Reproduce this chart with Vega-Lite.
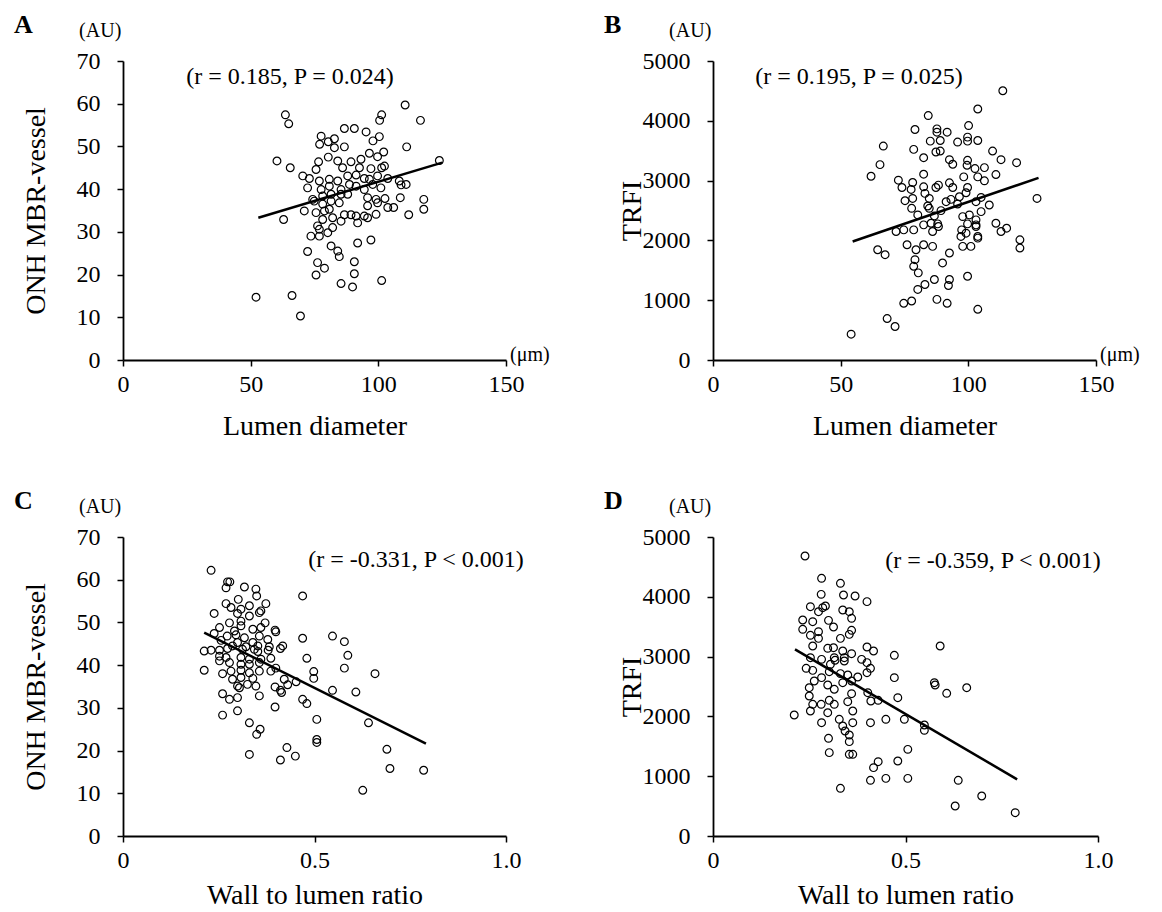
{
"$schema":"https://vega.github.io/schema/vega-lite/v6.json",
"background":"white",
"padding":{"left":13,"top":11,"right":10,"bottom":10},
"bounds":"flush",
"columns":2,
"spacing":{"row":177,"column":207},
"config":{"font":"Liberation Serif","view":{"stroke":null},
 "axis":{"grid":false,"domainColor":"black","domainWidth":1.8,"tickColor":"black","tickWidth":1.5,"tickSize":6,"labelFont":"Liberation Serif","labelFontSize":24,"labelColor":"black","titleFont":"Liberation Serif","titleFontSize":28,"titleFontWeight":"normal","titleColor":"black","labelOverlap":false,"labelFlush":false},
 "axisY":{"labelPadding":17},
 "axisX":{"labelPadding":6},
 "text":{"font":"Liberation Serif","color":"black"}},
"datasets":{
"a":[{"x":63.6,"y":57.4},{"x":64.9,"y":55.3},{"x":101.3,"y":57.4},{"x":100.5,"y":56.1},{"x":60.3,"y":46.6},{"x":65.5,"y":45.0},{"x":77.6,"y":52.4},{"x":82.8,"y":51.8},{"x":86.7,"y":54.2},{"x":90.6,"y":54.2},{"x":95.2,"y":53.4},{"x":100.4,"y":52.3},{"x":97.9,"y":51.3},{"x":77.0,"y":50.5},{"x":80.4,"y":51.1},{"x":82.8,"y":49.7},{"x":86.7,"y":49.9},{"x":96.5,"y":48.4},{"x":102.1,"y":48.7},{"x":93.2,"y":47.0},{"x":99.7,"y":47.6},{"x":76.6,"y":46.4},{"x":80.4,"y":47.5},{"x":84.1,"y":46.6},{"x":89.3,"y":46.4},{"x":75.6,"y":44.6},{"x":86.0,"y":45.0},{"x":92.6,"y":45.0},{"x":97.1,"y":44.8},{"x":102.4,"y":45.4},{"x":70.4,"y":43.1},{"x":73.0,"y":42.5},{"x":76.9,"y":41.9},{"x":80.8,"y":42.3},{"x":84.1,"y":41.9},{"x":88.0,"y":43.1},{"x":91.3,"y":43.3},{"x":94.5,"y":42.5},{"x":96.5,"y":42.3},{"x":99.7,"y":43.1},{"x":103.7,"y":42.5},{"x":72.3,"y":40.3},{"x":77.6,"y":39.9},{"x":80.8,"y":40.7},{"x":85.4,"y":39.9},{"x":88.7,"y":41.1},{"x":91.3,"y":40.7},{"x":94.5,"y":39.9},{"x":97.8,"y":41.1},{"x":101.0,"y":40.3},{"x":74.3,"y":37.6},{"x":78.2,"y":38.4},{"x":81.5,"y":38.8},{"x":85.4,"y":38.8},{"x":88.0,"y":38.8},{"x":95.8,"y":38.0},{"x":99.1,"y":37.6},{"x":102.6,"y":37.8},{"x":71.0,"y":34.9},{"x":74.9,"y":37.2},{"x":78.2,"y":36.5},{"x":81.5,"y":37.2},{"x":84.7,"y":36.8},{"x":95.8,"y":36.1},{"x":99.7,"y":36.8},{"x":103.7,"y":35.7},{"x":75.6,"y":34.5},{"x":78.9,"y":34.9},{"x":80.8,"y":35.3},{"x":86.7,"y":34.0},{"x":89.3,"y":34.0},{"x":91.3,"y":33.7},{"x":94.5,"y":33.7},{"x":99.1,"y":34.1},{"x":62.9,"y":32.9},{"x":78.2,"y":32.9},{"x":82.1,"y":33.3},{"x":85.4,"y":32.5},{"x":91.9,"y":32.1},{"x":95.8,"y":33.3},{"x":76.2,"y":31.4},{"x":76.9,"y":30.6},{"x":82.1,"y":31.0},{"x":73.6,"y":29.0},{"x":76.9,"y":29.0},{"x":80.2,"y":29.8},{"x":91.9,"y":27.4},{"x":97.1,"y":28.1},{"x":81.5,"y":26.7},{"x":84.1,"y":25.5},{"x":84.7,"y":24.2},{"x":72.3,"y":25.4},{"x":76.2,"y":22.8},{"x":78.9,"y":21.5},{"x":75.6,"y":19.9},{"x":90.6,"y":23.0},{"x":90.6,"y":20.2},{"x":85.4,"y":17.9},{"x":89.9,"y":17.1},{"x":101.3,"y":18.6},{"x":52.1,"y":14.7},{"x":66.2,"y":15.1},{"x":69.5,"y":10.3},{"x":110.5,"y":59.7},{"x":116.5,"y":56.1},{"x":111.1,"y":49.9},{"x":123.9,"y":46.7},{"x":101.3,"y":45.0},{"x":108.2,"y":41.9},{"x":110.9,"y":41.1},{"x":108.9,"y":41.0},{"x":108.6,"y":38.0},{"x":117.8,"y":37.6},{"x":106.0,"y":35.7},{"x":117.8,"y":35.3},{"x":111.9,"y":34.0}],
"b":[{"x":103.7,"y":4197},{"x":84.3,"y":4087},{"x":79.1,"y":3854},{"x":87.7,"y":3865},{"x":87.7,"y":3810},{"x":91.7,"y":3810},{"x":89.0,"y":3671},{"x":85.1,"y":3660},{"x":95.8,"y":3644},{"x":99.7,"y":3727},{"x":100.1,"y":3920},{"x":99.7,"y":3660},{"x":103.7,"y":3671},{"x":66.7,"y":3577},{"x":78.6,"y":3522},{"x":82.5,"y":3383},{"x":87.3,"y":3478},{"x":89.0,"y":3494},{"x":92.6,"y":3350},{"x":93.9,"y":3273},{"x":99.7,"y":3339},{"x":99.5,"y":3256},{"x":102.6,"y":3201},{"x":103.7,"y":3062},{"x":65.4,"y":3267},{"x":61.9,"y":3073},{"x":82.5,"y":3107},{"x":72.6,"y":3007},{"x":74.0,"y":2885},{"x":78.2,"y":2968},{"x":77.6,"y":2852},{"x":75.2,"y":2664},{"x":78.2,"y":2702},{"x":77.8,"y":2536},{"x":80.2,"y":2426},{"x":82.5,"y":2896},{"x":83.0,"y":2786},{"x":84.7,"y":2702},{"x":84.1,"y":2575},{"x":84.7,"y":2536},{"x":88.3,"y":2924},{"x":87.3,"y":2885},{"x":92.6,"y":2963},{"x":93.9,"y":2885},{"x":98.2,"y":3062},{"x":99.7,"y":2885},{"x":99.1,"y":2797},{"x":96.5,"y":2730},{"x":93.2,"y":2686},{"x":91.3,"y":2647},{"x":95.8,"y":2608},{"x":89.3,"y":2498},{"x":86.7,"y":2409},{"x":88.0,"y":2276},{"x":85.4,"y":2287},{"x":82.5,"y":2260},{"x":86.0,"y":2149},{"x":88.3,"y":2232},{"x":71.7,"y":2149},{"x":74.7,"y":2176},{"x":78.6,"y":2176},{"x":97.8,"y":2398},{"x":100.4,"y":2426},{"x":99.7,"y":2276},{"x":103.0,"y":2343},{"x":103.0,"y":2232},{"x":97.4,"y":2176},{"x":99.1,"y":2121},{"x":97.1,"y":2066},{"x":103.7,"y":2066},{"x":97.8,"y":1900},{"x":101.0,"y":1900},{"x":64.5,"y":1844},{"x":67.4,"y":1761},{"x":76.0,"y":1927},{"x":79.5,"y":1844},{"x":82.5,"y":1927},{"x":86.0,"y":1900},{"x":92.6,"y":1789},{"x":89.9,"y":1623},{"x":79.1,"y":1678},{"x":78.6,"y":1567},{"x":80.4,"y":1457},{"x":99.7,"y":1401},{"x":86.7,"y":1346},{"x":83.0,"y":1263},{"x":80.2,"y":1180},{"x":92.6,"y":1346},{"x":92.2,"y":1246},{"x":74.7,"y":948},{"x":77.8,"y":986},{"x":87.7,"y":1014},{"x":91.7,"y":948},{"x":103.7,"y":848},{"x":68.2,"y":693},{"x":71.3,"y":560},{"x":54.1,"y":432},{"x":113.5,"y":4502},{"x":109.5,"y":3494},{"x":112.8,"y":3350},{"x":118.9,"y":3300},{"x":106.3,"y":3217},{"x":106.3,"y":2996},{"x":110.8,"y":3101},{"x":105.0,"y":2719},{"x":103.0,"y":2647},{"x":108.2,"y":2592},{"x":105.0,"y":2481},{"x":126.9,"y":2702},{"x":103.0,"y":2260},{"x":103.7,"y":2038},{"x":110.8,"y":2287},{"x":112.8,"y":2149},{"x":115.0,"y":2204},{"x":120.2,"y":2010},{"x":120.2,"y":1872}],
"c":[{"x":0.230,"y":62.2},{"x":0.273,"y":59.5},{"x":0.279,"y":59.5},{"x":0.269,"y":58.1},{"x":0.317,"y":58.3},{"x":0.347,"y":57.8},{"x":0.349,"y":56.2},{"x":0.301,"y":55.4},{"x":0.269,"y":54.4},{"x":0.282,"y":53.5},{"x":0.238,"y":52.1},{"x":0.308,"y":53.1},{"x":0.330,"y":53.9},{"x":0.360,"y":52.7},{"x":0.373,"y":54.4},{"x":0.299,"y":52.1},{"x":0.330,"y":51.5},{"x":0.308,"y":50.3},{"x":0.278,"y":49.9},{"x":0.308,"y":49.2},{"x":0.252,"y":48.8},{"x":0.356,"y":52.3},{"x":0.371,"y":49.9},{"x":0.339,"y":48.4},{"x":0.360,"y":48.8},{"x":0.397,"y":48.2},{"x":0.399,"y":47.8},{"x":0.238,"y":47.4},{"x":0.272,"y":46.8},{"x":0.291,"y":48.0},{"x":0.295,"y":47.1},{"x":0.317,"y":46.4},{"x":0.356,"y":46.8},{"x":0.378,"y":46.0},{"x":0.256,"y":45.8},{"x":0.299,"y":45.3},{"x":0.321,"y":44.3},{"x":0.352,"y":44.5},{"x":0.382,"y":44.3},{"x":0.339,"y":45.3},{"x":0.469,"y":56.2},{"x":0.469,"y":46.3},{"x":0.417,"y":44.5},{"x":0.411,"y":43.9},{"x":0.212,"y":43.3},{"x":0.230,"y":43.5},{"x":0.252,"y":43.5},{"x":0.273,"y":43.9},{"x":0.286,"y":44.5},{"x":0.312,"y":43.7},{"x":0.343,"y":43.7},{"x":0.352,"y":43.2},{"x":0.379,"y":43.5},{"x":0.252,"y":42.1},{"x":0.269,"y":41.8},{"x":0.308,"y":41.8},{"x":0.330,"y":41.4},{"x":0.360,"y":41.4},{"x":0.386,"y":41.6},{"x":0.480,"y":41.6},{"x":0.212,"y":38.8},{"x":0.252,"y":41.0},{"x":0.278,"y":40.6},{"x":0.308,"y":40.2},{"x":0.330,"y":40.2},{"x":0.356,"y":40.6},{"x":0.399,"y":39.3},{"x":0.260,"y":38.0},{"x":0.282,"y":38.6},{"x":0.308,"y":38.8},{"x":0.330,"y":38.2},{"x":0.356,"y":38.6},{"x":0.386,"y":38.6},{"x":0.286,"y":36.7},{"x":0.308,"y":37.1},{"x":0.339,"y":36.9},{"x":0.421,"y":36.7},{"x":0.430,"y":35.4},{"x":0.452,"y":36.1},{"x":0.498,"y":38.5},{"x":0.498,"y":36.9},{"x":0.299,"y":35.1},{"x":0.304,"y":34.7},{"x":0.325,"y":35.5},{"x":0.347,"y":35.1},{"x":0.397,"y":34.9},{"x":0.411,"y":34.1},{"x":0.414,"y":33.6},{"x":0.260,"y":33.3},{"x":0.278,"y":32.0},{"x":0.299,"y":32.4},{"x":0.356,"y":32.8},{"x":0.299,"y":29.3},{"x":0.397,"y":30.2},{"x":0.469,"y":32.0},{"x":0.480,"y":31.0},{"x":0.260,"y":28.3},{"x":0.330,"y":26.5},{"x":0.358,"y":25.0},{"x":0.349,"y":23.8},{"x":0.506,"y":27.3},{"x":0.506,"y":22.6},{"x":0.506,"y":21.9},{"x":0.330,"y":19.1},{"x":0.411,"y":17.8},{"x":0.428,"y":20.7},{"x":0.450,"y":18.7},{"x":0.547,"y":46.8},{"x":0.578,"y":45.5},{"x":0.587,"y":42.3},{"x":0.578,"y":39.3},{"x":0.658,"y":38.0},{"x":0.547,"y":34.1},{"x":0.608,"y":33.7},{"x":0.641,"y":26.5},{"x":0.689,"y":20.3},{"x":0.697,"y":15.8},{"x":0.785,"y":15.4},{"x":0.626,"y":10.7}],
"d":[{"x":0.239,"y":4682},{"x":0.282,"y":4309},{"x":0.331,"y":4225},{"x":0.281,"y":4041},{"x":0.339,"y":4030},{"x":0.369,"y":4013},{"x":0.400,"y":3919},{"x":0.253,"y":3835},{"x":0.274,"y":3751},{"x":0.285,"y":3818},{"x":0.292,"y":3846},{"x":0.337,"y":3779},{"x":0.354,"y":3751},{"x":0.360,"y":3640},{"x":0.233,"y":3612},{"x":0.259,"y":3584},{"x":0.300,"y":3606},{"x":0.313,"y":3495},{"x":0.233,"y":3456},{"x":0.253,"y":3356},{"x":0.274,"y":3417},{"x":0.274,"y":3305},{"x":0.360,"y":3439},{"x":0.354,"y":3372},{"x":0.331,"y":3305},{"x":0.259,"y":3177},{"x":0.298,"y":3138},{"x":0.313,"y":3149},{"x":0.337,"y":3094},{"x":0.360,"y":3049},{"x":0.400,"y":3160},{"x":0.417,"y":3094},{"x":0.471,"y":3021},{"x":0.253,"y":2982},{"x":0.282,"y":2954},{"x":0.315,"y":2982},{"x":0.317,"y":2938},{"x":0.341,"y":2926},{"x":0.341,"y":2982},{"x":0.386,"y":2954},{"x":0.400,"y":2899},{"x":0.409,"y":2804},{"x":0.400,"y":2731},{"x":0.242,"y":2804},{"x":0.259,"y":2770},{"x":0.282,"y":2648},{"x":0.305,"y":2871},{"x":0.302,"y":2748},{"x":0.331,"y":2715},{"x":0.350,"y":2692},{"x":0.376,"y":2659},{"x":0.471,"y":2648},{"x":0.263,"y":2592},{"x":0.298,"y":2525},{"x":0.315,"y":2453},{"x":0.337,"y":2564},{"x":0.360,"y":2592},{"x":0.402,"y":2397},{"x":0.410,"y":2258},{"x":0.429,"y":2269},{"x":0.250,"y":2480},{"x":0.250,"y":2341},{"x":0.259,"y":2202},{"x":0.281,"y":2202},{"x":0.302,"y":2269},{"x":0.315,"y":2202},{"x":0.350,"y":2246},{"x":0.360,"y":2380},{"x":0.480,"y":2313},{"x":0.211,"y":2023},{"x":0.253,"y":2090},{"x":0.298,"y":2062},{"x":0.328,"y":1951},{"x":0.337,"y":1839},{"x":0.363,"y":2090},{"x":0.363,"y":1895},{"x":0.282,"y":1895},{"x":0.300,"y":1633},{"x":0.343,"y":1756},{"x":0.354,"y":1689},{"x":0.354,"y":1578},{"x":0.409,"y":1895},{"x":0.449,"y":1951},{"x":0.497,"y":1951},{"x":0.506,"y":1449},{"x":0.302,"y":1394},{"x":0.354,"y":1366},{"x":0.363,"y":1366},{"x":0.429,"y":1243},{"x":0.417,"y":1143},{"x":0.480,"y":1254},{"x":0.409,"y":931},{"x":0.449,"y":964},{"x":0.506,"y":964},{"x":0.331,"y":797},{"x":0.590,"y":3177},{"x":0.575,"y":2564},{"x":0.577,"y":2525},{"x":0.607,"y":2386},{"x":0.659,"y":2480},{"x":0.549,"y":1856},{"x":0.549,"y":1767},{"x":0.637,"y":931},{"x":0.698,"y":669},{"x":0.629,"y":502},{"x":0.785,"y":390}],
"la":[{"x":53,"y":33.3},{"x":125,"y":46.2}],
"lb":[{"x":54.7,"y":1982},{"x":127.5,"y":3045}],
"lc":[{"x":0.212,"y":47.6},{"x":0.791,"y":21.6}],
"ld":[{"x":0.213,"y":3120},{"x":0.790,"y":948}]
},
"concat":[
{"width":383,"height":299,"layer":[
 {"data":{"name":"a"},"mark":{"type":"point","shape":"circle","filled":false,"color":"black","strokeWidth":1.2,"size":60,"opacity":1},
  "encoding":{"x":{"field":"x","type":"quantitative","scale":{"domain":[0,150],"nice":false},"axis":{"title":"Lumen diameter","values":[0,50,100,150],"titleY":74,"titleBaseline":"alphabetic"}},
   "y":{"field":"y","type":"quantitative","scale":{"domain":[0,70],"nice":false},"axis":{"title":"ONH MBR-vessel","values":[0,10,20,30,40,50,60,70],"titleX":-79,"titleY":149.5,"titleBaseline":"alphabetic"}}}},
 {"data":{"name":"la"},"mark":{"type":"line","color":"black","strokeWidth":2.5},"encoding":{"x":{"field":"x","type":"quantitative","scale":{"domain":[0,150],"nice":false}},"y":{"field":"y","type":"quantitative","scale":{"domain":[0,70],"nice":false}}}},
 {"data":{"values":[{"t":"A","x":-42.7,"y":76.6}]},"mark":{"type":"text","align":"left","baseline":"alphabetic","fontSize":26,"fontWeight":"bold"},"encoding":{"x":{"field":"x","type":"quantitative","scale":{"domain":[0,150],"nice":false}},"y":{"field":"y","type":"quantitative","scale":{"domain":[0,70],"nice":false}},"text":{"field":"t"}}},
 {"data":{"values":[{"t":"(AU)","x":-17.2,"y":75.6}]},"mark":{"type":"text","align":"left","baseline":"alphabetic","fontSize":20},"encoding":{"x":{"field":"x","type":"quantitative","scale":{"domain":[0,150],"nice":false}},"y":{"field":"y","type":"quantitative","scale":{"domain":[0,70],"nice":false}},"text":{"field":"t"}}},
 {"data":{"values":[{"t":"(μm)","x":151.6,"y":-0.2}]},"mark":{"type":"text","align":"left","baseline":"alphabetic","fontSize":20},"encoding":{"x":{"field":"x","type":"quantitative","scale":{"domain":[0,150],"nice":false}},"y":{"field":"y","type":"quantitative","scale":{"domain":[0,70],"nice":false}},"text":{"field":"t"}}},
 {"data":{"values":[{"t":"(r = 0.185, P = 0.024)","x":65.4,"y":64.7}]},"mark":{"type":"text","align":"center","baseline":"alphabetic","fontSize":24},"encoding":{"x":{"field":"x","type":"quantitative","scale":{"domain":[0,150],"nice":false}},"y":{"field":"y","type":"quantitative","scale":{"domain":[0,70],"nice":false}},"text":{"field":"t"}}}
]},
{"width":383,"height":299,"layer":[
 {"data":{"name":"b"},"mark":{"type":"point","shape":"circle","filled":false,"color":"black","strokeWidth":1.2,"size":60,"opacity":1},
  "encoding":{"x":{"field":"x","type":"quantitative","scale":{"domain":[0,150],"nice":false},"axis":{"title":"Lumen diameter","values":[0,50,100,150],"titleY":74,"titleBaseline":"alphabetic"}},
   "y":{"field":"y","type":"quantitative","scale":{"domain":[0,5000],"nice":false},"axis":{"title":"TRFI","format":"d","values":[0,1000,2000,3000,4000,5000],"titleX":-73,"titleY":149.5,"titleBaseline":"alphabetic"}}}},
 {"data":{"name":"lb"},"mark":{"type":"line","color":"black","strokeWidth":2.5},"encoding":{"x":{"field":"x","type":"quantitative","scale":{"domain":[0,150],"nice":false}},"y":{"field":"y","type":"quantitative","scale":{"domain":[0,5000],"nice":false}}}},
 {"data":{"values":[{"t":"B","x":-42.7,"y":5465}]},"mark":{"type":"text","align":"left","baseline":"alphabetic","fontSize":26,"fontWeight":"bold"},"encoding":{"x":{"field":"x","type":"quantitative","scale":{"domain":[0,150],"nice":false}},"y":{"field":"y","type":"quantitative","scale":{"domain":[0,5000],"nice":false}},"text":{"field":"t"}}},
 {"data":{"values":[{"t":"(AU)","x":-17.2,"y":5399}]},"mark":{"type":"text","align":"left","baseline":"alphabetic","fontSize":20},"encoding":{"x":{"field":"x","type":"quantitative","scale":{"domain":[0,150],"nice":false}},"y":{"field":"y","type":"quantitative","scale":{"domain":[0,5000],"nice":false}},"text":{"field":"t"}}},
 {"data":{"values":[{"t":"(μm)","x":151.6,"y":-16}]},"mark":{"type":"text","align":"left","baseline":"alphabetic","fontSize":20},"encoding":{"x":{"field":"x","type":"quantitative","scale":{"domain":[0,150],"nice":false}},"y":{"field":"y","type":"quantitative","scale":{"domain":[0,5000],"nice":false}},"text":{"field":"t"}}},
 {"data":{"values":[{"t":"(r = 0.195, P = 0.025)","x":57.2,"y":4623}]},"mark":{"type":"text","align":"center","baseline":"alphabetic","fontSize":24},"encoding":{"x":{"field":"x","type":"quantitative","scale":{"domain":[0,150],"nice":false}},"y":{"field":"y","type":"quantitative","scale":{"domain":[0,5000],"nice":false}},"text":{"field":"t"}}}
]},
{"width":383,"height":299,"layer":[
 {"data":{"name":"c"},"mark":{"type":"point","shape":"circle","filled":false,"color":"black","strokeWidth":1.2,"size":60,"opacity":1},
  "encoding":{"x":{"field":"x","type":"quantitative","scale":{"domain":[0,1],"nice":false},"axis":{"title":"Wall to lumen ratio","values":[0,0.5,1],"labelExpr":"datum.value == 0 ? '0' : format(datum.value, '.1f')","titleY":67,"titleBaseline":"alphabetic"}},
   "y":{"field":"y","type":"quantitative","scale":{"domain":[0,70],"nice":false},"axis":{"title":"ONH MBR-vessel","values":[0,10,20,30,40,50,60,70],"titleX":-79,"titleY":149.5,"titleBaseline":"alphabetic"}}}},
 {"data":{"name":"lc"},"mark":{"type":"line","color":"black","strokeWidth":2.5},"encoding":{"x":{"field":"x","type":"quantitative","scale":{"domain":[0,1],"nice":false}},"y":{"field":"y","type":"quantitative","scale":{"domain":[0,70],"nice":false}}}},
 {"data":{"values":[{"t":"C","x":-0.2846,"y":76.6}]},"mark":{"type":"text","align":"left","baseline":"alphabetic","fontSize":26,"fontWeight":"bold"},"encoding":{"x":{"field":"x","type":"quantitative","scale":{"domain":[0,1],"nice":false}},"y":{"field":"y","type":"quantitative","scale":{"domain":[0,70],"nice":false}},"text":{"field":"t"}}},
 {"data":{"values":[{"t":"(AU)","x":-0.1149,"y":75.6}]},"mark":{"type":"text","align":"left","baseline":"alphabetic","fontSize":20},"encoding":{"x":{"field":"x","type":"quantitative","scale":{"domain":[0,1],"nice":false}},"y":{"field":"y","type":"quantitative","scale":{"domain":[0,70],"nice":false}},"text":{"field":"t"}}},
 {"data":{"values":[{"t":"(r = -0.331, P < 0.001)","x":0.765,"y":63.0}]},"mark":{"type":"text","align":"center","baseline":"alphabetic","fontSize":24},"encoding":{"x":{"field":"x","type":"quantitative","scale":{"domain":[0,1],"nice":false}},"y":{"field":"y","type":"quantitative","scale":{"domain":[0,70],"nice":false}},"text":{"field":"t"}}}
]},
{"width":385,"height":299,"layer":[
 {"data":{"name":"d"},"mark":{"type":"point","shape":"circle","filled":false,"color":"black","strokeWidth":1.2,"size":60,"opacity":1},
  "encoding":{"x":{"field":"x","type":"quantitative","scale":{"domain":[0,1],"nice":false},"axis":{"title":"Wall to lumen ratio","values":[0,0.5,1],"labelExpr":"datum.value == 0 ? '0' : format(datum.value, '.1f')","titleY":67,"titleBaseline":"alphabetic"}},
   "y":{"field":"y","type":"quantitative","scale":{"domain":[0,5000],"nice":false},"axis":{"title":"TRFI","format":"d","values":[0,1000,2000,3000,4000,5000],"titleX":-73,"titleY":149.5,"titleBaseline":"alphabetic"}}}},
 {"data":{"name":"ld"},"mark":{"type":"line","color":"black","strokeWidth":2.5},"encoding":{"x":{"field":"x","type":"quantitative","scale":{"domain":[0,1],"nice":false}},"y":{"field":"y","type":"quantitative","scale":{"domain":[0,5000],"nice":false}}}},
 {"data":{"values":[{"t":"D","x":-0.283,"y":5468}]},"mark":{"type":"text","align":"left","baseline":"alphabetic","fontSize":26,"fontWeight":"bold"},"encoding":{"x":{"field":"x","type":"quantitative","scale":{"domain":[0,1],"nice":false}},"y":{"field":"y","type":"quantitative","scale":{"domain":[0,5000],"nice":false}},"text":{"field":"t"}}},
 {"data":{"values":[{"t":"(AU)","x":-0.1143,"y":5401}]},"mark":{"type":"text","align":"left","baseline":"alphabetic","fontSize":20},"encoding":{"x":{"field":"x","type":"quantitative","scale":{"domain":[0,1],"nice":false}},"y":{"field":"y","type":"quantitative","scale":{"domain":[0,5000],"nice":false}},"text":{"field":"t"}}},
 {"data":{"values":[{"t":"(r = -0.359, P < 0.001)","x":0.727,"y":4482}]},"mark":{"type":"text","align":"center","baseline":"alphabetic","fontSize":24},"encoding":{"x":{"field":"x","type":"quantitative","scale":{"domain":[0,1],"nice":false}},"y":{"field":"y","type":"quantitative","scale":{"domain":[0,5000],"nice":false}},"text":{"field":"t"}}}
]}
]
}
